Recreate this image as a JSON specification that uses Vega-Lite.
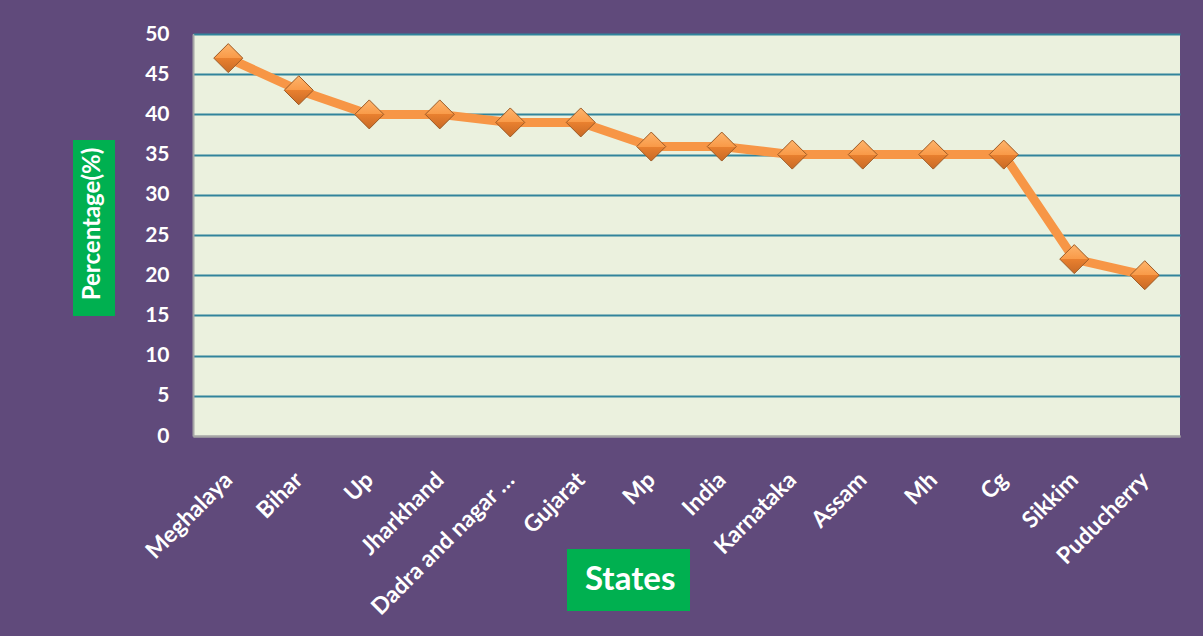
{
  "$schema": "https://vega.github.io/schema/vega-lite/v6.json",
  "width": 987,
  "height": 402,
  "autosize": {"type": "none"},
  "padding": {"left": 193, "top": 34, "right": 23, "bottom": 200},
  "background": "#604A7B",
  "view": {"fill": "#EBF1DE", "stroke": null},
  "config": {
    "font": "Lato",
    "legend": {
      "orient": "none",
      "fillColor": "#00B050",
      "strokeColor": null,
      "symbolSize": 0,
      "symbolStrokeWidth": 0,
      "symbolOpacity": 0,
      "labelColor": "white",
      "labelFont": "Lato",
      "labelFontWeight": "bold",
      "labelLimit": 400,
      "titleColor": "white",
      "titleFont": "Lato",
      "titleFontWeight": "bold",
      "titleLimit": 400
    }
  },
  "data": {
    "values": [
      {"state": "Meghalaya", "pct": 47},
      {"state": "Bihar", "pct": 43},
      {"state": "Up", "pct": 40},
      {"state": "Jharkhand", "pct": 40},
      {"state": "Dadra and nagar …", "pct": 39},
      {"state": "Gujarat", "pct": 39},
      {"state": "Mp", "pct": 36},
      {"state": "India", "pct": 36},
      {"state": "Karnataka", "pct": 35},
      {"state": "Assam", "pct": 35},
      {"state": "Mh", "pct": 35},
      {"state": "Cg", "pct": 35},
      {"state": "Sikkim", "pct": 22},
      {"state": "Puducherry", "pct": 20}
    ]
  },
  "encoding": {
    "x": {
      "field": "state",
      "type": "nominal",
      "sort": null,
      "scale": {"type": "point", "padding": 0.5},
      "axis": {
        "title": null,
        "labelAngle": -45,
        "labelAlign": "right",
        "labelBaseline": "middle",
        "labelColor": "white",
        "labelFont": "Lato",
        "labelFontSize": 23,
        "labelFontWeight": "bold",
        "labelPadding": 40,
        "labelLimit": 300,
        "ticks": false,
        "domainColor": "#A6A6A6",
        "domainWidth": 2,
        "grid": false
      }
    },
    "y": {
      "field": "pct",
      "type": "quantitative",
      "scale": {"domain": [0, 50], "nice": false},
      "axis": {
        "title": null,
        "values": [0, 5, 10, 15, 20, 25, 30, 35, 40, 45, 50],
        "labelColor": "white",
        "labelFont": "Lato",
        "labelFontSize": 21,
        "labelFontWeight": "bold",
        "labelPadding": 24,
        "ticks": false,
        "domainColor": "#A6A6A6",
        "domainWidth": 2,
        "grid": true,
        "gridColor": {"condition": {"test": "datum.value === 0", "value": "#A6A6A6"}, "value": "#31849B"},
        "gridWidth": 2,
        "gridOpacity": 1
      }
    }
  },
  "layer": [
    {
      "mark": {"type": "line", "strokeWidth": 9, "strokeJoin": "round", "color": "#F79646"},
      "encoding": {}
    },
    {
      "mark": {
        "type": "point",
        "filled": true,
        "size": 841,
        "opacity": 1,
        "fill": {
          "gradient": "linear",
          "x1": 0, "y1": 0, "x2": 0, "y2": 1,
          "stops": [
            {"offset": 0, "color": "#FDB46C"},
            {"offset": 0.5, "color": "#F99A48"},
            {"offset": 0.5, "color": "#E9802F"},
            {"offset": 1, "color": "#C86A26"}
          ]
        },
        "strokeWidth": 1
      },
      "encoding": {
        "shape": {
          "datum": "States",
          "scale": {"range": ["diamond"]},
          "legend": {
            "title": null,
            "legendX": 374,
            "legendY": 515,
            "padding": 14,
            "labelFontSize": 33,
            "labelOffset": -29
          }
        },
        "stroke": {
          "datum": 1,
          "type": "quantitative",
          "scale": {"domain": [0, 1], "range": ["#9C5A25", "#9C5A25"]},
          "legend": {
            "title": "Percentage(%)",
            "direction": "vertical",
            "titleOrient": "left",
            "titleFontSize": 24,
            "titlePadding": 0,
            "gradientLength": 160,
            "gradientThickness": 1,
            "gradientOpacity": 0,
            "gradientStrokeWidth": 0,
            "labelExpr": "''",
            "labelFontSize": 1,
            "labelOffset": 0,
            "legendX": -120,
            "legendY": 106,
            "padding": 8
          }
        }
      }
    }
  ]
}
